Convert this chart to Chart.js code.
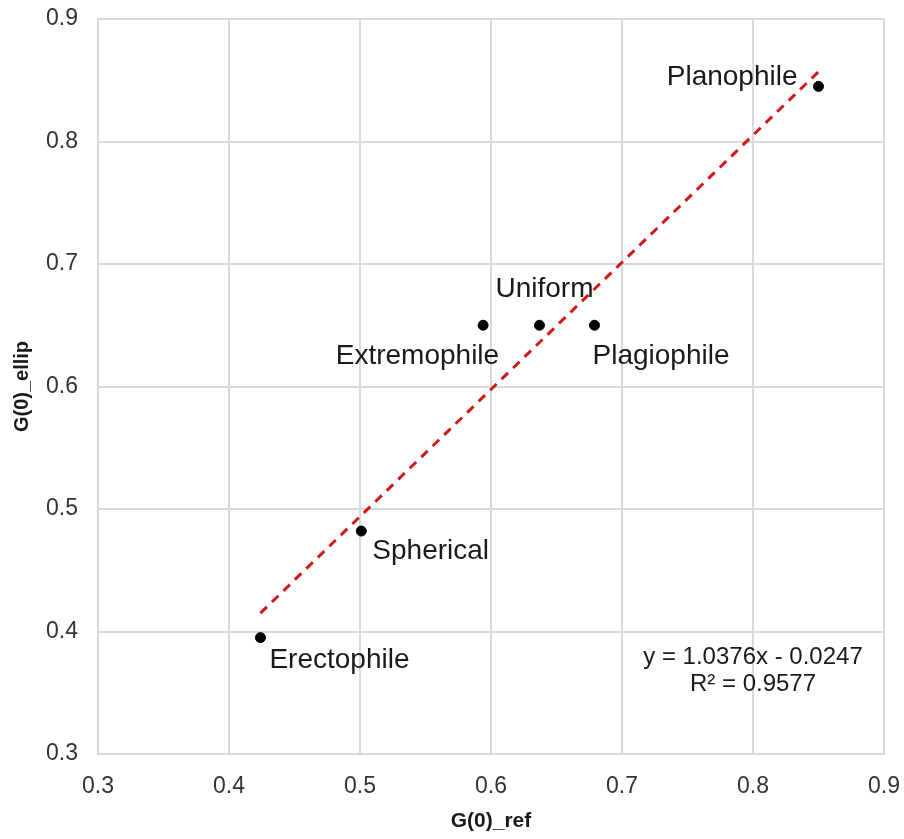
<!DOCTYPE html>
<html>
<head>
<meta charset="utf-8">
<script src="https://cdn.jsdelivr.net/npm/chart.js@4/dist/chart.umd.min.js"></script>
<style>
    html, body { margin: 0; padding: 0; background: #fff; }
    #wrap { width: 904px; height: 839px; }
</style>
</head>
<body>
<div id="wrap"><canvas id="chart"></canvas></div>
<script>
// Leaf angle distributions: G(0) from reference vs ellipsoidal model
const names = ['Erectophile', 'Spherical', 'Extremophile', 'Uniform', 'Plagiophile', 'Planophile'];
const refValues = [0.424, 0.501, 0.594, 0.637, 0.679, 0.850];
const ellipValues = [0.395, 0.482, 0.650, 0.650, 0.650, 0.845];

// linear trendline end points
const trendX = [0.424, 0.850];
const trendY = [0.415, 0.857];
const equationLines = ['y = 1.0376x - 0.0247', 'R² = 0.9577'];

const xTicks = [0.3, 0.4, 0.5, 0.6, 0.7, 0.8, 0.9];
const yTicks = [0.3, 0.4, 0.5, 0.6, 0.7, 0.8, 0.9];

const FONT = '"Liberation Sans", Arial, sans-serif';

// where each point label sits, relative to its dot (pixels)
const labelPlace = {
    Erectophile:  { dx: 9,   dy: 23,  align: 'left' },
    Spherical:    { dx: 11,  dy: 20,  align: 'left' },
    Extremophile: { dx: 16,  dy: 31,  align: 'right' },
    Uniform:      { dx: 5,   dy: -36, align: 'center' },
    Plagiophile:  { dx: -2,  dy: 31,  align: 'left' },
    Planophile:   { dx: -21, dy: -9,  align: 'right' }
};

const pointLabels = {
    id: 'pointLabels',
    afterDatasetsDraw(chart) {
        const { ctx, scales } = chart;
        ctx.save();
        ctx.fillStyle = '#1a1a1a';
        ctx.font = '28px ' + FONT;
        ctx.textBaseline = 'middle';
        names.forEach((name, i) => {
            const p = labelPlace[name];
            const px = scales.x.getPixelForValue(refValues[i]);
            const py = scales.y.getPixelForValue(ellipValues[i]);
            ctx.textAlign = p.align;
            ctx.fillText(name, px + p.dx, py + p.dy);
        });

        // trendline equation
        ctx.font = '24px ' + FONT;
        ctx.textAlign = 'center';
        const ex = scales.x.getPixelForValue(0.8);
        const ey = scales.y.getPixelForValue(0.379);
        equationLines.forEach((line, i) => ctx.fillText(line, ex, ey + i * 27));
        ctx.restore();
    }
};

new Chart(document.getElementById('chart'), {
    type: 'scatter',
    data: {
        datasets: [
            {
                label: 'G(0)',
                data: refValues.map((v, i) => ({ x: v, y: ellipValues[i] })),
                backgroundColor: '#000',
                borderColor: '#000',
                pointRadius: 5,
                pointHoverRadius: 5,
                order: 1
            },
            {
                label: 'Linear',
                type: 'line',
                data: trendX.map((v, i) => ({ x: v, y: trendY[i] })),
                borderColor: '#d01818',
                borderWidth: 3,
                borderDash: [9, 7],
                pointRadius: 0,
                fill: false,
                order: 2
            }
        ]
    },
    options: {
        responsive: true,
        maintainAspectRatio: false,
        animation: false,
        layout: { padding: { top: 19, right: 20, left: 0, bottom: 0 } },
        plugins: {
            legend: { display: false },
            tooltip: { enabled: false }
        },
        scales: {
            x: {
                type: 'linear',
                min: 0.3,
                max: 0.9,
                afterBuildTicks: scale => { scale.ticks = xTicks.map(v => ({ value: v })); },
                afterFit: scale => {
                    scale.height = 85;
                    scale.paddingLeft = 0;
                    scale.paddingRight = 0;
                },
                ticks: {
                    padding: 19,
                    color: '#333',
                    font: { family: FONT, size: 23 },
                    callback: v => v.toFixed(1)
                },
                grid: { color: '#d9d9d9', lineWidth: 2, drawTicks: false },
                border: { color: '#d9d9d9', width: 2 },
                title: {
                    display: true,
                    text: 'G(0)_ref',
                    color: '#1a1a1a',
                    font: { family: FONT, size: 21, weight: 'bold' },
                    padding: { top: 0, bottom: 5 }
                }
            },
            y: {
                type: 'linear',
                min: 0.3,
                max: 0.9,
                afterBuildTicks: scale => { scale.ticks = yTicks.map(v => ({ value: v })); },
                afterFit: scale => {
                    scale.width = 98;
                    scale.paddingTop = 0;
                    scale.paddingBottom = 0;
                },
                ticks: {
                    padding: 20,
                    color: '#333',
                    font: { family: FONT, size: 23 },
                    callback: v => v.toFixed(1)
                },
                grid: { color: '#d9d9d9', lineWidth: 2, drawTicks: false },
                border: { color: '#d9d9d9', width: 2 },
                title: {
                    display: true,
                    text: 'G(0)_ellip',
                    color: '#1a1a1a',
                    font: { family: FONT, size: 20, weight: 'bold' },
                    padding: { top: 10, bottom: 0 }
                }
            }
        }
    },
    plugins: [pointLabels]
});
</script>
</body>
</html>
